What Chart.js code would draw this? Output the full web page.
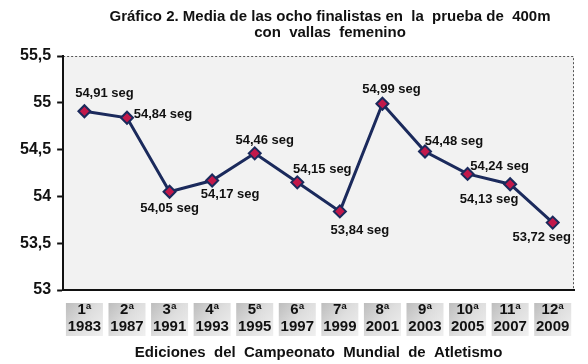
<!DOCTYPE html>
<html>
<head>
<meta charset="utf-8">
<script src="https://cdn.jsdelivr.net/npm/chart.js@4.4.1/dist/chart.umd.min.js"></script>
<style>
  html, body { margin: 0; padding: 0; background: #ffffff; }
  #wrap { width: 588px; height: 364px; }
</style>
</head>
<body>
<div id="wrap"><canvas id="chart" width="588" height="364"></canvas></div>
<script>
// Chart data
const editions = ['1ª', '2ª', '3ª', '4ª', '5ª', '6ª', '7ª', '8ª', '9ª', '10ª', '11ª', '12ª'];
const years = ['1983', '1987', '1991', '1993', '1995', '1997', '1999', '2001', '2003', '2005', '2007', '2009'];
const meanTimes = [54.91, 54.84, 54.05, 54.17, 54.46, 54.15, 53.84, 54.99, 54.48, 54.24, 54.13, 53.72];
const yTicks = [53, 53.5, 54, 54.5, 55, 55.5];
const titleLines = ['Gráfico 2. Media de las ocho finalistas en  la  prueba de  400m', 'con  vallas  femenino'];

// label offsets (dx, dy) from each point, as placed in the original
const labelOffsets = [
  [20, -18], [36, -3], [0, 17], [18, 14], [10, -13], [25, -13],
  [20, 19], [9, -14], [29, -10], [32, -8], [-21, 15], [-11, 15]
];

const FONT = 'Liberation Sans, Arial, sans-serif';
const fmt = v => String(v).replace('.', ',');

// Gray plot background, dotted top/right frame, shaded boxes behind category labels
const plotFrame = {
  id: 'plotFrame',
  beforeDraw(chart) {
    const { ctx, chartArea: a } = chart;
    const x = chart.scales.x;
    ctx.save();
    ctx.fillStyle = '#f2f2f2';
    ctx.fillRect(a.left, a.top, a.right - a.left, a.bottom - a.top);

    // label boxes
    const top = a.bottom + 13, h = 33, w = 37;
    editions.forEach((_, i) => {
      const cx = x.getPixelForTick(i);
      const g = ctx.createLinearGradient(cx - w / 2, top, cx + w / 2, top + h);
      g.addColorStop(0, '#bdbdbd');
      g.addColorStop(0.5, '#dedede');
      g.addColorStop(1, '#f0f0f0');
      ctx.fillStyle = g;
      ctx.fillRect(cx - w / 2, top, w, h);
    });

    ctx.strokeStyle = '#555';
    ctx.lineWidth = 1;
    ctx.setLineDash([2, 2]);
    ctx.beginPath();
    ctx.moveTo(a.left, a.top + 0.5);
    ctx.lineTo(a.right - 0.5, a.top + 0.5);
    ctx.lineTo(a.right - 0.5, a.bottom);
    ctx.stroke();
    ctx.setLineDash([]);

    // chart title (sits right of centre in the original)
    ctx.fillStyle = '#111';
    ctx.font = 'bold 15px ' + FONT;
    ctx.textAlign = 'center';
    ctx.textBaseline = 'middle';
    ctx.fillText(titleLines[0], 330, 17);
    ctx.fillText(titleLines[1], 330, 33);
    ctx.restore();
  }
};

// "xx,xx seg" labels next to each point
const valueLabels = {
  id: 'valueLabels',
  afterDatasetsDraw(chart) {
    const { ctx } = chart;
    const meta = chart.getDatasetMeta(0);
    ctx.save();
    ctx.font = 'bold 13px ' + FONT;
    ctx.fillStyle = '#111';
    ctx.textAlign = 'center';
    ctx.textBaseline = 'middle';
    meta.data.forEach((pt, i) => {
      const [dx, dy] = labelOffsets[i];
      ctx.fillText(fmt(meanTimes[i]) + ' seg', pt.x + dx, pt.y + dy);
    });
    ctx.restore();
  }
};

const config = {
  type: 'line',
  data: {
    labels: editions.map((e, i) => [e, years[i]]),
    datasets: [{
      data: meanTimes,
      borderColor: '#1b2a5c',
      borderWidth: 3,
      tension: 0,
      pointStyle: 'rectRot',
      pointRadius: 6,
      pointBackgroundColor: '#c2184a',
      pointBorderColor: '#1b2a5c',
      pointBorderWidth: 2
    }]
  },
  options: {
    responsive: false,
    animation: false,
    layout: { padding: { left: 14, right: 14, top: 56, bottom: 0 } },
    plugins: {
      legend: { display: false },
      tooltip: { enabled: false },
      title: { display: false }
    },
    scales: {
      x: {
        offset: true,
        grid: { display: false, drawTicks: false },
        border: { display: true, color: '#111', width: 2 },
        ticks: {
          color: '#111',
          font: { family: FONT, size: 15, weight: 'bold', lineHeight: 1.1 },
          padding: 12,
          maxRotation: 0,
          autoSkip: false
        },
        title: {
          display: true,
          text: 'Ediciones  del  Campeonato  Mundial  de  Atletismo',
          color: '#111',
          font: { family: FONT, size: 15, weight: 'bold' },
          padding: { top: -3, bottom: 2 }
        }
      },
      y: {
        min: 53,
        max: 55.5,
        afterBuildTicks(axis) {
          axis.ticks = yTicks.map(v => ({ value: v }));
        },
        grid: { drawOnChartArea: false, drawTicks: true, tickLength: 6, color: '#111', tickWidth: 2 },
        border: { display: true, color: '#111', width: 2 },
        ticks: {
          color: '#111',
          font: { family: FONT, size: 16, weight: 'bold' },
          padding: 6,
          callback: v => fmt(v)
        }
      }
    }
  },
  plugins: [plotFrame, valueLabels]
};

new Chart(document.getElementById('chart').getContext('2d'), config);
</script>
</body>
</html>
